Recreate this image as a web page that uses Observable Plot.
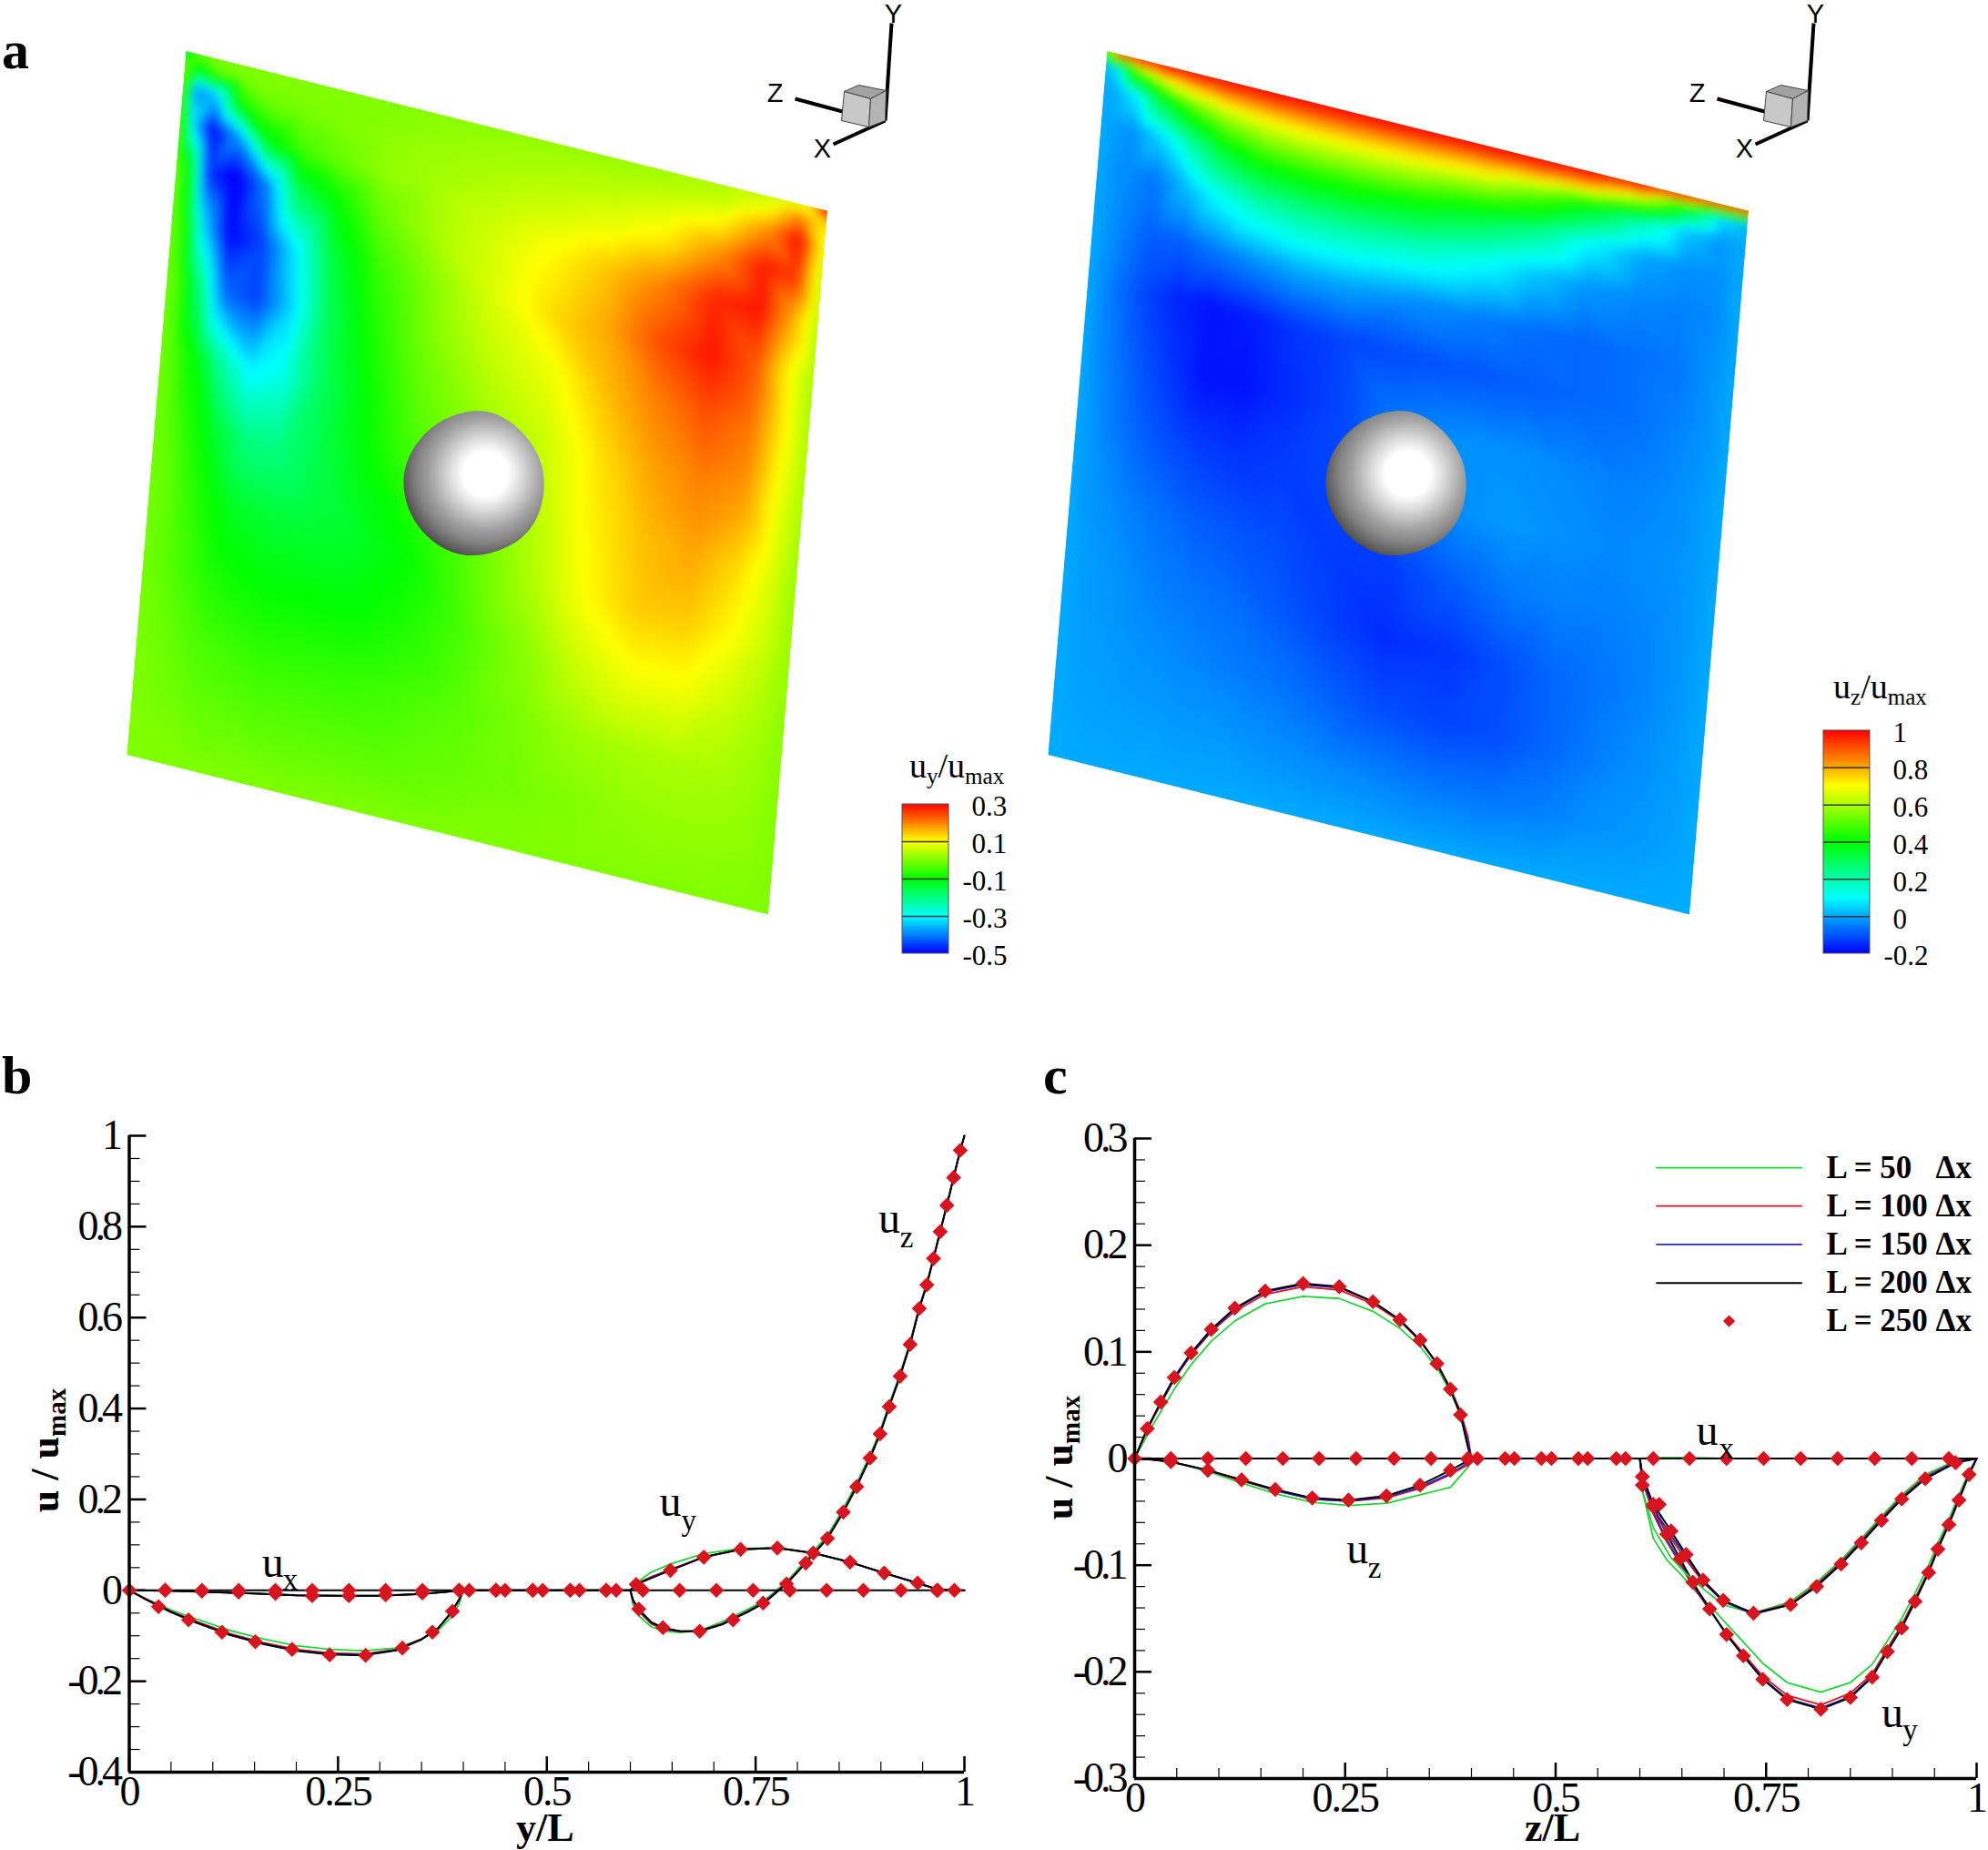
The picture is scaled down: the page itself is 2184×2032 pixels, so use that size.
<!DOCTYPE html>
<html>
<head>
<meta charset="utf-8">
<script src="https://cdn.jsdelivr.net/npm/d3@7"></script>
<script src="https://cdn.jsdelivr.net/npm/@observablehq/plot@0.6"></script>
<style>
  body { margin: 0; background: #fff; }
  #page { position: relative; width: 2184px; height: 2032px; overflow: hidden; font-family: "Liberation Serif", serif; }
  .lbl { position: absolute; white-space: nowrap; color: #000; line-height: 1; }
  .lbl sub { font-size: 0.66em; vertical-align: -0.28em; line-height: 0; }
  .bold { font-weight: bold; }
  g[aria-label="y-axis tick label"] text { letter-spacing: -4px; }
  g[aria-label="x-axis tick label"] text { letter-spacing: -2px; }
</style>
</head>
<body>
<svg width="0" height="0" style="position:absolute">
  <defs>
    <radialGradient id="sphereShade" gradientUnits="userSpaceOnUse" cx="113" cy="90" r="100">
      <stop offset="0" stop-color="#fff"/>
      <stop offset="0.25" stop-color="#fff"/>
      <stop offset="0.4" stop-color="#dadada"/>
      <stop offset="0.62" stop-color="#a0a0a0"/>
      <stop offset="0.75" stop-color="#858585"/>
      <stop offset="0.9" stop-color="#5a5a5a"/>
      <stop offset="1" stop-color="#3a3a3a"/>
    </radialGradient>
  </defs>
</svg>
<div id="page"></div>
<script>
// ---- panel a, fields on a grid in the plane of the slice
const fieldU = [0, .02, .05, .09, .14, .19, .25, .32, .4, .5, .6, .68, .76, .84, .91, .96, 1]
const fieldV = [0, .02, .05, .1, .16, .24, .32, .42, .52, .62, .72, .82, .91, 1]

const uyField = [
  [-.2, -.01, 0, 0, 0, 0, 0, 0, .01, .01, .015, .02, .03, .04, .05, .07, .3],
  [-.02, -.12, -.02, -.01, 0, 0, 0, 0, .01, .02, .03, .03, .04, .05, .1, .2, .12],
  [-.02, -.4, -.35, -.08, -.02, -.01, 0, .01, .02, .03, .04, .05, .07, .1, .19, .29, .08],
  [-.02, -.32, -.5, -.38, -.12, -.05, -.02, .015, .03, .05, .07, .09, .12, .19, .28, .26, .05],
  [-.01, -.12, -.46, -.52, -.4, -.17, -.1, -.02, .03, .07, .11, .15, .2, .27, .285, .17, .04],
  [-.01, -.08, -.33, -.5, -.45, -.32, -.15, -.06, 0, .07, .13, .17, .24, .285, .23, .105, .03],
  [-.01, -.05, -.2, -.42, -.45, -.34, -.17, -.08, -.01, .05, .09, .15, .2, .24, .21, .11, .03],
  [-.01, -.04, -.1, -.22, -.31, -.28, -.17, -.1, -.03, .02, .06, .12, .17, .2, .18, .09, .03],
  [-.01, -.03, -.07, -.13, -.2, -.2, -.16, -.11, -.06, 0, .05, .11, .15, .17, .13, .075, .02],
  [-.01, -.02, -.05, -.09, -.13, -.14, -.14, -.13, -.1, -.03, .04, .1, .14, .14, .1, .06, .02],
  [-.01, -.02, -.04, -.07, -.09, -.1, -.1, -.1, -.08, -.04, .01, .06, .09, .09, .06, .035, .01],
  [-.005, -.01, -.02, -.04, -.05, -.06, -.06, -.06, -.05, -.03, -.005, .02, .03, .035, .03, .02, .005],
  [0, -.005, -.01, -.02, -.025, -.03, -.03, -.03, -.03, -.02, -.01, 0, .01, .015, .015, .01, 0],
  [0, 0, 0, 0, 0, 0, 0, 0, 0, 0, 0, 0, 0, 0, 0, 0, 0]
]
const uzField = [
  [.5, 1, 1, 1, 1, 1, 1, 1, 1, 1, 1, 1, 1, 1, 1, 1, 1],
  [0, .08, .5, .68, .78, .83, .85, .86, .86, .85, .84, .82, .78, .63, .33, .06, 0],
  [0, 0, .08, .33, .5, .6, .65, .67, .67, .66, .62, .52, .37, .2, .03, -.02, 0],
  [0, -.01, -.03, .05, .2, .34, .42, .44, .44, .41, .33, .24, .1, 0, -.03, -.03, 0],
  [0, -.02, -.04, -.06, .03, .12, .19, .22, .22, .19, .12, .04, -.02, -.04, -.05, -.04, 0],
  [0, -.02, -.05, -.09, -.09, -.06, -.03, 0, 0, -.03, -.05, -.07, -.08, -.07, -.06, -.03, 0],
  [0, -.03, -.07, -.12, -.16, -.18, -.17, -.14, -.12, -.11, -.1, -.09, -.08, -.07, -.05, -.03, 0],
  [0, -.03, -.06, -.1, -.14, -.18, -.18, -.15, -.12, -.05, -.03, -.03, -.04, -.05, -.04, -.02, 0],
  [0, -.02, -.05, -.08, -.11, -.13, -.14, -.13, -.12, -.08, -.03, -.02, -.03, -.04, -.03, -.02, 0],
  [0, -.02, -.03, -.05, -.07, -.09, -.1, -.11, -.13, -.13, -.09, -.06, -.05, -.05, -.04, -.02, 0],
  [0, -.01, -.02, -.03, -.05, -.06, -.07, -.09, -.12, -.15, -.14, -.11, -.08, -.06, -.04, -.02, 0],
  [0, -.01, -.015, -.02, -.03, -.04, -.05, -.06, -.08, -.11, -.12, -.11, -.08, -.05, -.03, -.015, 0],
  [0, -.005, -.01, -.012, -.015, -.02, -.02, -.03, -.04, -.05, -.06, -.06, -.05, -.03, -.02, -.01, 0],
  [0, 0, 0, 0, 0, 0, 0, 0, 0, 0, 0, 0, 0, 0, 0, 0, 0]
]

const rainbow = ["#0000ff", "#00ffff", "#00ff00", "#ffff00", "#ff0000"]
const uyStops = [-.5, -.3, -.1, .1, .3]
const uzStops = [-.2, .1, .4, .7, 1]
const uyBarTicks = [-.5, -.3, -.1, .1, .3]
const uzBarTicks = [-.2, 0, .2, .4, .6, .8, 1]

// outline of the sphere and the little axis triad
const sphereX = [290, 380, 455, 515, 540, 515, 435, 295, 180, 90, 58, 90, 170]
const sphereY = [55, 68, 122, 200, 300, 425, 510, 552, 515, 420, 295, 190, 98]
const triadAxes = [[[132, 132], [139, 25]], [[33, 108], [85, 122]], [[75, 158], [132, 132]]]
const cubeFaces = [
  {fill: "#a2a2a2", pts: [[87, 100], [103, 93], [133, 99], [116, 108], [87, 100]]},
  {fill: "#c8c8c8", pts: [[87, 100], [116, 108], [114, 139], [84, 132], [87, 100]]},
  {fill: "#b4b4b4", pts: [[116, 108], [133, 99], [132, 132], [114, 139], [116, 108]]}
]
const triadNames = ["Y", "Z", "X"]
const triadNameX = [141, 11, 63]
const triadNameY = [15, 102, 163]

// ---- panel b
const bYTicks = [-.4, -.2, 0, .2, .4, .6, .8, 1]
const xTicks = [0, .25, .5, .75, 1]

const bUxX = [0, .4, .6, 1]
const bUxL200 = [0, 0, 0, 0]
const bUzX = [0, .02, .05, .08, .12, .16, .2, .24, .28, .32, .35, .37, .385, .395, .4, .6, .603, .61, .625, .64, .66, .683, .71, .74, .76, .787, .81, .836, .855, .871, .887, .899, .91, .923, .935, .946, .955, .963, .971, .979, .987, .995, 1]
const bUzL50 = [0, -.018, -.043, -.063, -.088, -.107, -.122, -.13, -.133, -.127, -.107, -.088, -.06, -.03, 0, 0, -.03, -.056, -.08, -.09, -.093, -.088, -.069, -.042, -.023, .019, .066, .121, .18, .236, .298, .351, .41, .477, .547, .625, .676, .733, .791, .848, .908, .968, 1]
const bUzL100 = [0, -.019, -.046, -.068, -.095, -.115, -.13, -.138, -.14, -.13, -.107, -.083, -.051, -.022, 0, 0, -.024, -.046, -.074, -.086, -.091, -.089, -.073, -.046, -.026, .016, .062, .116, .174, .23, .293, .346, .406, .473, .543, .622, .674, .731, .79, .848, .908, .968, 1]
const bUzL150 = [0, -.02, -.047, -.07, -.097, -.117, -.132, -.14, -.142, -.131, -.108, -.083, -.05, -.021, 0, 0, -.021, -.043, -.071, -.084, -.09, -.09, -.074, -.047, -.027, .015, .061, .115, .173, .229, .292, .345, .405, .472, .542, .621, .673, .73, .789, .847, .908, .968, 1]
const bUzL200 = [0, -.02, -.048, -.071, -.098, -.118, -.133, -.141, -.143, -.132, -.108, -.083, -.05, -.02, 0, 0, -.02, -.042, -.07, -.083, -.09, -.09, -.075, -.048, -.028, .014, .06, .114, .172, .228, .291, .344, .404, .471, .541, .62, .672, .73, .789, .847, .908, .968, 1]
const bUyX = [0, .05, .1, .15, .2, .25, .3, .35, .4, .6, .607, .625, .648, .688, .732, .776, .819, .863, .904, .944, .968, .988, 1]
const bUyL50 = [0, -.001, -.003, -.006, -.01, -.011, -.011, -.007, 0, 0, .016, .04, .058, .081, .092, .094, .082, .062, .038, .016, .003, 0, 0]
const bUyL100 = [0, -.001, -.004, -.007, -.011, -.012, -.012, -.008, 0, 0, .014, .03, .046, .074, .09, .093, .082, .062, .038, .016, .002, 0, 0]
const bUyL150 = [0, -.001, -.004, -.007, -.011, -.012, -.012, -.008, 0, 0, .014, .028, .045, .073, .09, .093, .082, .062, .038, .016, .002, 0, 0]
const bUyL200 = [0, -.001, -.004, -.007, -.011, -.012, -.012, -.008, 0, 0, .013, .027, .044, .073, .09, .093, .082, .062, .038, .016, .002, 0, 0]

const bUzMarkX = [0, .035, .071, .111, .151, .195, .24, .283, .327, .363, .387, .407, .45, .495, .539, .583, .61, .639, .683, .723, .759, .787, .81, .836, .855, .871, .887, .899, .91, .923, .935, .946, .955, .963, .971, .979, .987, .995]
const bUzMarkY = [0, -.036, -.065, -.092, -.113, -.13, -.142, -.143, -.127, -.092, -.046, 0, 0, 0, 0, 0, -.041, -.082, -.09, -.065, -.028, .014, .06, .114, .172, .228, .291, .344, .404, .471, .541, .62, .672, .73, .789, .847, .908, .968]
const bUyMarkX = [.043, .087, .131, .175, .219, .263, .307, .351, .395, .439, .483, .528, .571, .607, .648, .688, .732, .776, .819, .863, .904, .944, .968, .988]
const bUyMarkY = [0, -.002, -.004, -.007, -.012, -.012, -.01, -.006, 0, 0, 0, 0, 0, .013, .044, .073, .09, .093, .082, .062, .038, .016, 0, 0]
const bUxMarkX = [.043, .087, .131, .175, .219, .263, .307, .351, .395, .439, .483, .528, .571, .615, .659, .703, .747, .791, .835, .879, .924, .967]

// ---- panel c
const cYTicks = [-.3, -.2, -.1, 0, .1, .2, .3]

const cUxX = [0, .4, .6, .615, .66, .7, 1]
const cUxL50 = [0, 0, 0, .001, .001, 0, 0]
const cUxL200 = [0, 0, 0, 0, 0, 0, 0]
const cUyX = [0, .015, .031, .047, .067, .091, .119, .155, .2, .243, .283, .315, .339, .359, .375, .387, .396, .4, .6, .603, .616, .632, .648, .663, .683, .703, .723, .746, .775, .815, .85, .876, .894, .911, .927, .943, .954, .967, .979, .991, 1]
const cUyL50 = [0, .022, .044, .065, .088, .11, .129, .145, .152, .15, .138, .122, .105, .085, .063, .04, .012, 0, 0, -.03, -.075, -.095, -.108, -.122, -.138, -.155, -.172, -.192, -.21, -.219, -.21, -.193, -.171, -.15, -.126, -.1, -.079, -.057, -.034, -.012, 0]
const cUyL100 = [0, .027, .051, .074, .097, .119, .138, .154, .161, .158, .145, .129, .11, .089, .066, .044, .02, 0, 0, -.02, -.052, -.078, -.099, -.12, -.142, -.164, -.183, -.204, -.222, -.231, -.22, -.202, -.178, -.156, -.131, -.105, -.083, -.06, -.037, -.014, 0]
const cUyL150 = [0, .028, .052, .075, .098, .12, .14, .156, .163, .16, .147, .13, .111, .089, .065, .042, .015, 0, 0, -.018, -.05, -.076, -.097, -.118, -.142, -.165, -.185, -.206, -.225, -.234, -.223, -.204, -.18, -.158, -.133, -.106, -.084, -.061, -.038, -.015, 0]
const cUyL200 = [0, .028, .053, .076, .099, .121, .141, .157, .164, .161, .147, .13, .111, .089, .065, .041, .01, 0, 0, -.015, -.045, -.071, -.094, -.116, -.141, -.165, -.185, -.207, -.226, -.235, -.224, -.205, -.181, -.159, -.134, -.107, -.085, -.062, -.039, -.015, 0]
const cUzX = [0, .02, .043, .087, .127, .167, .211, .254, .299, .339, .375, .396, .4, .6, .603, .616, .637, .655, .675, .699, .735, .779, .81, .839, .863, .887, .911, .939, .975, 1]
const cUzL50 = [0, -.001, -.003, -.012, -.023, -.033, -.041, -.044, -.042, -.034, -.027, -.008, 0, 0, -.03, -.065, -.093, -.108, -.122, -.137, -.145, -.134, -.116, -.095, -.075, -.054, -.034, -.015, -.002, 0]
const cUzL100 = [0, -.001, -.003, -.011, -.021, -.03, -.038, -.04, -.037, -.028, -.015, -.006, 0, 0, -.022, -.05, -.075, -.095, -.116, -.134, -.145, -.136, -.118, -.097, -.077, -.056, -.036, -.017, -.003, 0]
const cUzL150 = [0, -.001, -.003, -.011, -.02, -.03, -.038, -.04, -.036, -.027, -.014, -.004, 0, 0, -.02, -.047, -.072, -.092, -.115, -.134, -.146, -.137, -.119, -.098, -.078, -.057, -.037, -.018, -.003, 0]
const cUzL200 = [0, -.001, -.003, -.011, -.02, -.029, -.037, -.039, -.035, -.025, -.011, -.002, 0, 0, -.017, -.043, -.068, -.09, -.114, -.133, -.145, -.137, -.12, -.099, -.079, -.058, -.038, -.019, -.004, 0]

const cUyMarkX = [0, .015, .031, .047, .067, .091, .119, .155, .2, .243, .283, .315, .339, .359, .375, .387, .396, .603, .616, .632, .648, .663, .683, .703, .723, .746, .775, .815, .85, .876, .894, .911, .927, .943, .954, .967, .979, .991]
const cUyMarkY = [0, .028, .053, .076, .099, .121, .141, .157, .164, .161, .147, .13, .111, .089, .065, .041, 0, -.017, -.045, -.071, -.094, -.116, -.141, -.165, -.185, -.207, -.226, -.235, -.224, -.205, -.181, -.159, -.134, -.107, -.085, -.062, -.039, -.015]
const cUzMarkX = [.043, .087, .127, .167, .211, .254, .299, .339, .375, .396, .603, .616, .623, .637, .655, .675, .699, .735, .779, .81, .839, .863, .887, .911, .939, .975]
const cUzMarkY = [-.003, -.011, -.02, -.029, -.037, -.039, -.035, -.025, -.011, -.001, -.025, -.043, -.043, -.068, -.09, -.114, -.133, -.145, -.137, -.12, -.099, -.079, -.058, -.038, -.019, -.004]
const cUxMarkX = [.043, .087, .132, .176, .219, .263, .308, .352, .396, .407, .44, .451, .483, .495, .527, .538, .572, .583, .616, .659, .703, .747, .791, .835, .879, .923, .967]

const legendNames = ["L = 50   Δx", "L = 100 Δx", "L = 150 Δx", "L = 200 Δx", "L = 250 Δx"]
const legendColors = ["#1fd636", "#d8141e", "#2424c8", "#000000", "#d8141e"]
const legendY = [.2725, .2368, .2007, .1645, .1288]

const serif = '"Liberation Serif", serif'
const lineColor = {L50: legendColors[0], L100: legendColors[1], L150: legendColors[2], L200: legendColors[3]}
const markRed = legendColors[4]
const page = document.getElementById("page")
const pts = (xs, ys) => xs.map((x, i) => ({x, y: ys[i]}))

function addLabel(html, left, top, size, extra = "", bold = false) {
  const el = document.createElement("div")
  el.className = bold ? "lbl bold" : "lbl"
  el.style.cssText = `left:${left}px;top:${top}px;font-size:${size}px;${extra}`
  el.innerHTML = html
  page.append(el)
}

// slice drawn on a square, then sheared on to the parallelogram of the picture
function fieldPlot(values, stops, left) {
  const rows = fieldV.flatMap((v, j) => fieldU.map((u, i) => ({u, v, val: values[j][i]})))
  const side = 800
  const chart = Plot.plot({
    width: side, height: side, margin: 0,
    x: {domain: [0, 1], axis: null},
    y: {domain: [0, 1], reverse: true, axis: null},
    color: {type: "linear", domain: stops, range: rainbow, clamp: true},
    style: {position: "absolute", left: 0, top: 0, background: "transparent", transformOrigin: "0 0",
      transform: `matrix(${705 / side},${175.5 / side},${-65 / side},${773.5 / side},${left},55.5)`},
    marks: [Plot.raster(rows, {x: "u", y: "v", fill: "val", interpolate: "barycentric", blur: 5, x1: 0, x2: 1, y1: 0, y2: 1})]
  })
  page.append(chart)
}

function spherePlot(left) {
  const outline = sphereX.map((x, i) => ({x, y: sphereY[i]}))
  page.append(Plot.plot({
    width: 200, height: 200, margin: 0,
    x: {domain: [0, 600], axis: null},
    y: {domain: [0, 600], reverse: true, axis: null},
    style: {position: "absolute", left: left + "px", top: "430px", background: "transparent"},
    marks: [Plot.line(outline, {x: "x", y: "y", curve: "basis-closed", fill: "url(#sphereShade)", stroke: "none"})]
  }))
}

function triadPlot(left) {
  page.append(Plot.plot({
    width: 170, height: 180, margin: 0,
    x: {domain: [0, 170], axis: null},
    y: {domain: [0, 180], reverse: true, axis: null},
    style: {position: "absolute", left: left + "px", top: "0px", background: "transparent", overflow: "visible"},
    marks: [
      triadAxes.map(a => Plot.line(a, {x: d => d[0], y: d => d[1], stroke: "#000", strokeWidth: 4, strokeLinecap: "butt"})),
      cubeFaces.map(f => Plot.line(f.pts, {x: d => d[0], y: d => d[1], fill: f.fill, stroke: "#444", strokeWidth: 1})),
      Plot.text(triadNames, {x: (d, i) => triadNameX[i], y: (d, i) => triadNameY[i], text: d => d,
        fontFamily: '"Liberation Sans", sans-serif', fontSize: 29, fill: "#000"})
    ]
  }))
}

function colorBar(stops, ticks, left, top, barH) {
  const lo = stops[0], hi = stops[stops.length - 1]
  const steps = d3.range(lo, hi, (hi - lo) / 120)
  const stepH = (hi - lo) / 120
  const textBits = {x: () => 1, text: d => String(d), textAnchor: "start", fontFamily: serif, fontSize: 31, fill: "#000", dy: 3}
  page.append(Plot.plot({
    width: 190, height: barH + 40, marginLeft: 0, marginRight: 139, marginTop: 20, marginBottom: 20,
    x: {domain: [0, 1], axis: null},
    y: {domain: [lo, hi], axis: null},
    color: {type: "linear", domain: stops, range: rainbow},
    style: {position: "absolute", left: left + "px", top: (top - 20) + "px", background: "transparent", overflow: "visible"},
    marks: [
      Plot.rectY(steps, {x1: 0, x2: 1, y1: d => d, y2: d => d + stepH, fill: d => d + stepH / 2, inset: 0, shapeRendering: "crispEdges"}),
      Plot.ruleY(ticks.slice(1, -1), {stroke: "#333", strokeWidth: 1.5}),
      Plot.rect([0], {x1: 0, x2: 1, y1: lo, y2: hi, fill: "none", stroke: "#555", strokeWidth: 1}),
      Plot.text(ticks.filter(d => d >= 0), {...textBits, y: d => d, dx: 25}),
      Plot.text(ticks.filter(d => d < 0), {...textBits, y: d => d, dx: 15})
    ]
  }))
}

function curves(sets) {
  return sets.map(([xs, ys, key]) => Plot.line(pts(xs, ys), {x: "x", y: "y", stroke: lineColor[key], strokeWidth: key === "L200" ? 2 : 1.8}))
}

function markers(xs, ys) {
  return Plot.dot(pts(xs, ys), {x: "x", y: "y", symbol: "diamond2", r: 7.5, fill: markRed, stroke: "none"})
}

function subText(x, y, str, isSub) {
  return Plot.text([str], {x: () => x, y: () => y, text: d => d, fontFamily: serif, fontSize: isSub ? 33 : 48, fill: "#000"})
}

function linePanel({left, marginLeft, marginRight, marginTop, marginBottom, yDomain, yTicks, yMinor, marks}) {
  const w = left === 0 ? 1100 : 1054
  page.append(Plot.plot({
    width: w, height: 852, marginLeft, marginRight, marginTop, marginBottom,
    x: {domain: [0, 1]},
    y: {domain: yDomain},
    style: {position: "absolute", left: left + "px", top: "1180px", background: "transparent", overflow: "visible",
      fontFamily: serif, fontSize: "46px", color: "#000"},
    marks: [
      Plot.axisY(yMinor, {anchor: "left", tickSize: -12, tickFormat: () => "", label: null, strokeWidth: 1.2}),
      Plot.axisX(d3.range(0, 1.01, .05), {anchor: "bottom", tickSize: -11, tickFormat: () => "", label: null, strokeWidth: 1.2}),
      Plot.axisY(yTicks, {anchor: "left", tickSize: -19, tickPadding: 30, tickFormat: d => String(d), label: null, strokeWidth: 2.5}),
      Plot.axisX(xTicks, {anchor: "bottom", tickSize: -17, tickPadding: 21, tickFormat: d => String(d), label: null, strokeWidth: 2.5}),
      ...marks,
      Plot.ruleX([0], {strokeWidth: 3.5}),
      Plot.ruleY([yDomain[0]], {strokeWidth: 3.5})
    ]
  }))
}

// ---- panel a
fieldPlot(uyField, uyStops, 204)
fieldPlot(uzField, uzStops, 1216)
spherePlot(420)
spherePlot(1433)
triadPlot(840)
triadPlot(1853)
colorBar(uyStops, uyBarTicks, 991, 883, 164)
colorBar(uzStops, uzBarTicks, 2003, 802, 245)
addLabel("u<sub>y</sub>/u<sub>max</sub>", 999, 822, 38)
addLabel("u<sub>z</sub>/u<sub>max</sub>", 2014, 735, 38)
addLabel("a", 2, 25, 60, "", true)
addLabel("b", 2, 1151, 60, "", true)
addLabel("c", 1146, 1151, 60, "", true)

// ---- panel b
linePanel({
  left: 0, marginLeft: 141.5, marginRight: 41, marginTop: 67, marginBottom: 86,
  yDomain: [-.4, 1], yTicks: bYTicks, yMinor: d3.range(-.4, 1.01, .05),
  marks: [
    curves([[bUzX, bUzL50, "L50"], [bUzX, bUzL100, "L100"], [bUzX, bUzL150, "L150"], [bUzX, bUzL200, "L200"],
      [bUyX, bUyL50, "L50"], [bUyX, bUyL100, "L100"], [bUyX, bUyL150, "L150"], [bUyX, bUyL200, "L200"],
      [bUxX, bUxL200, "L200"]]),
    markers(bUzMarkX, bUzMarkY),
    markers(bUyMarkX, bUyMarkY),
    markers(bUxMarkX, bUxMarkX.map(() => 0)),
    subText(.91, .817, "u"), subText(.931, .776, "z", true),
    subText(.648, .194, "u"), subText(.67, .153, "y", true),
    subText(.172, .06, "u"), subText(.193, .022, "x", true)
  ]
})
addLabel("y/L", 567, 1986, 44, "", true)
addLabel("u / u<sub>max</sub>", 50, 1593, 44, "transform:translate(-50%,-50%) rotate(-90deg)", true)

// ---- panel c
linePanel({
  left: 1130, marginLeft: 116, marginRight: 13, marginTop: 70, marginBottom: 79,
  yDomain: [-.3, .3], yTicks: cYTicks, yMinor: d3.range(-.3, .301, .02),
  marks: [
    curves([[cUyX, cUyL50, "L50"], [cUyX, cUyL100, "L100"], [cUyX, cUyL150, "L150"], [cUyX, cUyL200, "L200"],
      [cUzX, cUzL50, "L50"], [cUzX, cUzL100, "L100"], [cUzX, cUzL150, "L150"], [cUzX, cUzL200, "L200"],
      [cUxX, cUxL50, "L50"], [cUxX, cUxL200, "L200"]]),
    markers(cUyMarkX, cUyMarkY),
    markers(cUzMarkX, cUzMarkY),
    markers(cUxMarkX, cUxMarkX.map(() => 0)),
    subText(.68, .0255, "u"), subText(.703, .009, "x", true),
    subText(.2645, -.085, "u"), subText(.285, -.103, "z", true),
    subText(.9, -.239, "u"), subText(.921, -.255, "y", true),
    legendY.slice(0, 4).map((y, i) => Plot.line([[.62, y], [.792, y]], {x: d => d[0], y: d => d[1], stroke: legendColors[i], strokeWidth: 1.8})),
    Plot.dot([[.706, legendY[4]]], {x: d => d[0], y: d => d[1], symbol: "diamond2", r: 6, fill: markRed, stroke: "none"}),
    Plot.text(legendNames, {x: () => .8216, y: (d, i) => legendY[i], text: d => d, textAnchor: "start",
      fontFamily: serif, fontWeight: "bold", fontSize: 35, fill: "#000", lineAnchor: "middle"})
  ]
})
addLabel("z/L", 1675, 1986, 44, "", true)
addLabel("u / u<sub>max</sub>", 1164, 1601, 44, "transform:translate(-50%,-50%) rotate(-90deg)", true)
</script>
</body>
</html>
